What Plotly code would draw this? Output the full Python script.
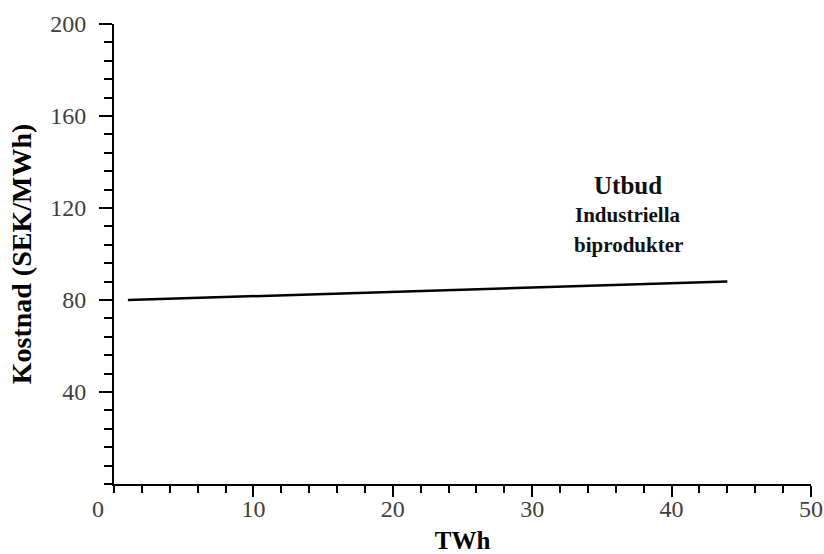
import plotly.graph_objects as go

# Data
supply_x = [1, 44]          # TWh
supply_y = [80, 88]         # SEK/MWh
x_ticks = [10, 20, 30, 40, 50]
y_ticks = [40, 80, 120, 160, 200]
label_title = "Utbud"
label_sub = ["Industriella", "biprodukter"]

font_family = "Liberation Serif, Times New Roman, serif"

fig = go.Figure()
fig.add_trace(go.Scatter(
    x=supply_x, y=supply_y, mode="lines",
    line=dict(color="black", width=2.5), showlegend=False, hoverinfo="skip",
))

fig.add_annotation(x=36.9, y=130, text=f"<b>{label_title}</b>", showarrow=False,
                   font=dict(family=font_family, size=25, color="#111"))
fig.add_annotation(x=36.9, y=117, text=f"<b>{label_sub[0]}</b>", showarrow=False,
                   font=dict(family=font_family, size=21, color="#111"))
fig.add_annotation(x=36.9, y=104, text=f"<b>{label_sub[1]}</b>", showarrow=False,
                   font=dict(family=font_family, size=21, color="#111"))
# origin label
fig.add_annotation(x=0, y=0, xref="x", yref="y", text="0", showarrow=False,
                   xshift=-16, yshift=-25,
                   font=dict(family=font_family, size=24, color="#404040"))

fig.update_layout(
    width=824, height=554,
    margin=dict(l=114, r=13, t=24, b=70),
    plot_bgcolor="white", paper_bgcolor="white",
    font=dict(family=font_family, size=24, color="#404040"),
    xaxis=dict(
        range=[0, 50], tickvals=x_ticks, ticktext=[str(v) for v in x_ticks],
        showgrid=False, zeroline=False, showline=True, linecolor="black", linewidth=2,
        ticks="outside", ticklen=11, tickwidth=2, tickcolor="black",
        minor=dict(dtick=2, tick0=0, ticks="outside", ticklen=7, tickwidth=2, tickcolor="black", showgrid=False),
        title=dict(text="<b>TWh</b>", font=dict(size=25, color="black"), standoff=22),
        tickfont=dict(size=24, color="#404040"),
        ticklabelstandoff=-9,
        automargin=False,
    ),
    yaxis=dict(
        range=[0, 200], tickvals=y_ticks, ticktext=[str(v) for v in y_ticks],
        showgrid=False, zeroline=False, showline=True, linecolor="black", linewidth=2,
        ticks="outside", ticklen=13, tickwidth=2, tickcolor="black",
        minor=dict(dtick=8, tick0=0, ticks="outside", ticklen=8, tickwidth=2, tickcolor="black", showgrid=False),
        title=dict(text="<b>Kostnad (SEK/MWh)</b>", font=dict(size=28, color="black"), standoff=10),
        tickfont=dict(size=24, color="#404040"),
        ticklabelstandoff=8,
        automargin=False,
    ),
)

fig.write_html("out.html")
